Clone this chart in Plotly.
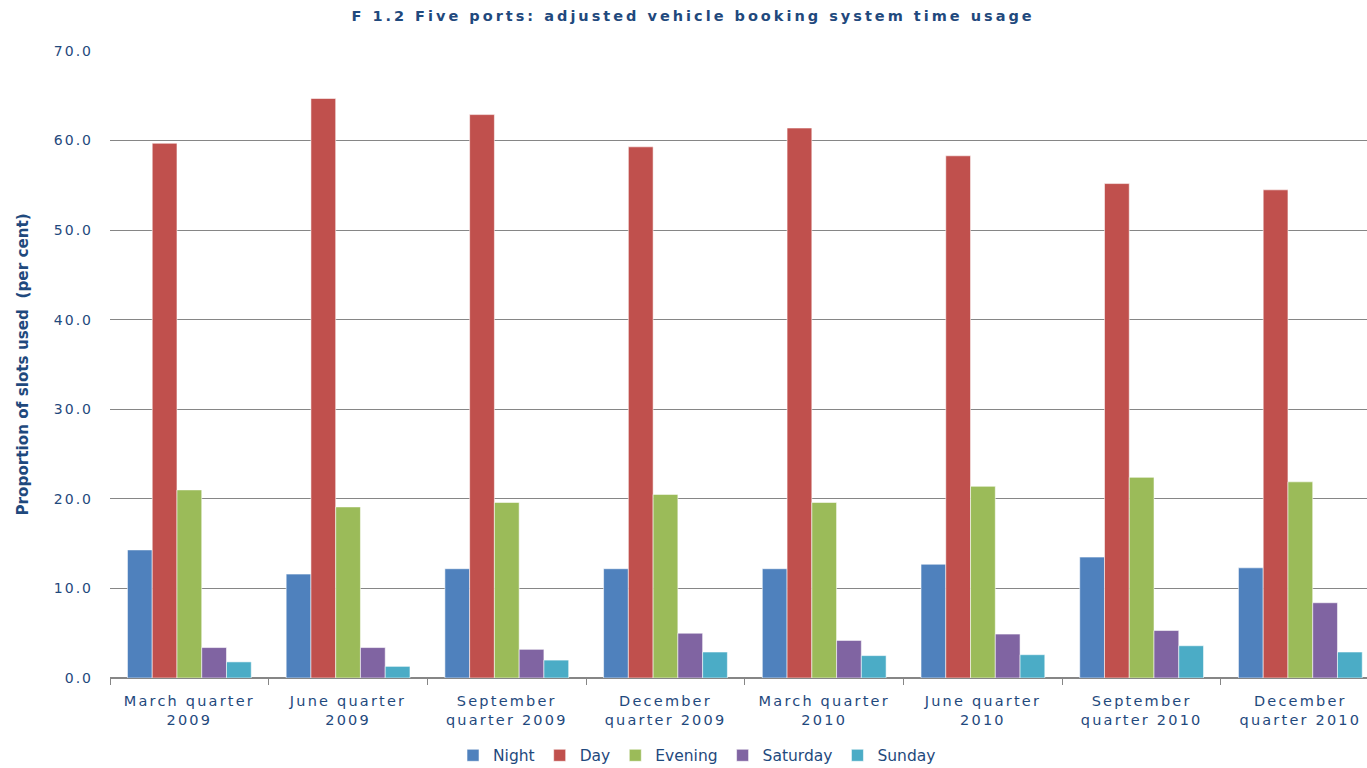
import plotly.graph_objects as go

# Quarters shown on the category axis
quarters = [
    "March quarter<br>2009", "June quarter<br>2009", "September<br>quarter 2009",
    "December<br>quarter 2009", "March quarter<br>2010", "June quarter<br>2010",
    "September<br>quarter 2010", "December<br>quarter 2010",
]

# Proportion of slots used (per cent) by time band
night = [14.3, 11.6, 12.2, 12.2, 12.2, 12.7, 13.5, 12.3]
day = [59.7, 64.7, 62.9, 59.3, 61.4, 58.3, 55.2, 54.5]
evening = [21.0, 19.1, 19.6, 20.5, 19.6, 21.4, 22.4, 21.9]
saturday = [3.4, 3.4, 3.2, 5.0, 4.2, 4.9, 5.3, 8.4]
sunday = [1.8, 1.3, 2.0, 2.9, 2.5, 2.6, 3.6, 2.9]

y_ticks = [0, 10, 20, 30, 40, 50, 60, 70]

series = [
    ("Night", night, "#4F81BD"),
    ("Day", day, "#C0504D"),
    ("Evening", evening, "#9BBB59"),
    ("Saturday", saturday, "#8064A2"),
    ("Sunday", sunday, "#4BACC6"),
]

text_color = "#1F497D"
grid_color = "#868686"
base_font = "DejaVu Sans, Verdana, sans-serif"

fig = go.Figure()
for name, values, color in series:
    fig.add_trace(go.Bar(
        name=name,
        x=quarters,
        y=values,
        marker=dict(color=color, line=dict(color="rgba(255,255,255,0.55)", width=1)),
    ))

fig.update_layout(
    width=1367,
    height=768,
    barmode="group",
    bargap=0.22,
    bargroupgap=0,
    paper_bgcolor="white",
    plot_bgcolor="white",
    margin=dict(l=110, r=0, t=51, b=90),
    font=dict(family=base_font, color=text_color, size=15),
    title=dict(
        text="<b>F 1.2 Five ports: adjusted vehicle booking system time usage</b>",
        x=0.507, xanchor="center",
        y=0.979, yanchor="middle",
        font=dict(family=base_font, size=14.5, color=text_color),
    ),
    legend=dict(
        orientation="h",
        x=0.467, xanchor="center",
        yref="container", y=0.016, yanchor="middle",
        font=dict(size=15.5, color=text_color),
        itemwidth=30,
        traceorder="normal",
    ),
    xaxis=dict(
        range=[-0.5, 7.42],
        showline=True,
        linecolor=grid_color,
        linewidth=1,
        ticks="outside",
        tickson="boundaries",
        ticklen=6,
        tickcolor=grid_color,
        tickfont=dict(size=14.5, color=text_color),
        ticklabelstandoff=10,
        showgrid=False,
    ),
    yaxis=dict(
        range=[0, 70],
        tickvals=y_ticks,
        tickformat=".1f",
        showgrid=True,
        gridcolor=grid_color,
        gridwidth=1,
        zeroline=True,
        zerolinecolor=grid_color,
        showline=False,
        tickfont=dict(size=14, color=text_color),
        ticklabelstandoff=16,
    ),
    annotations=[dict(
        text="<b>Proportion of slots used  (per cent)</b>",
        textangle=-90,
        xref="paper", yref="paper",
        x=-0.07, y=0.50,
        xanchor="center", yanchor="middle",
        showarrow=False,
        font=dict(family=base_font, size=15.2, color=text_color),
    )],
)

# Wider tracking on the title and tick labels
tracking = """
var st = document.createElement('style');
st.textContent = '.gtitle{letter-spacing:3px} .xtick text{letter-spacing:2.2px} .ytick text{letter-spacing:2px}';
document.head.appendChild(st);
"""

fig.write_html("out.html", post_script=tracking)
